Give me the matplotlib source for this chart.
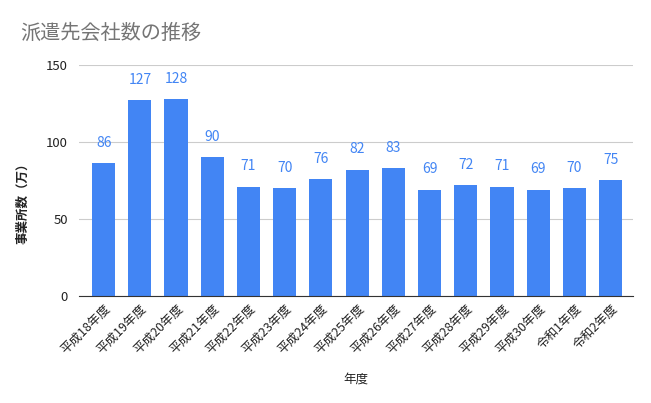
import matplotlib
matplotlib.use("Agg")
import matplotlib.pyplot as plt

plt.rcParams['font.family'] = ['Noto Sans CJK JP', 'DejaVu Sans']

years = ["平成18年度", "平成19年度", "平成20年度", "平成21年度", "平成22年度",
         "平成23年度", "平成24年度", "平成25年度", "平成26年度", "平成27年度",
         "平成28年度", "平成29年度", "平成30年度", "令和1年度", "令和2年度"]
counts = [86, 127, 128, 90, 71, 70, 76, 82, 83, 69, 72, 71, 69, 70, 75]

BLUE = "#4285F4"

fig = plt.figure(figsize=(6.51, 4.03), dpi=100)
ax = fig.add_axes([0.1214, 0.2655, 0.851, 0.574])

x = list(range(len(years)))
ax.bar(x, counts, width=0.64, color=BLUE, zorder=2)
for xi, v in zip(x, counts):
    ax.text(xi, v + 8.5, str(v), ha="center", va="bottom", color=BLUE, fontsize=10)

ax.set_ylim(0, 150)
ax.set_xlim(-0.68, 14.62)
ax.set_yticks([0, 50, 100, 150])
ax.yaxis.grid(True, color="#cccccc", lw=0.8, zorder=0)
ax.set_axisbelow(True)
for s in ("top", "right", "left"):
    ax.spines[s].set_visible(False)
ax.spines["bottom"].set_color("#333333")
ax.tick_params(axis="y", length=0, pad=8, labelsize=9.5, labelcolor="#222222")
ax.tick_params(axis="x", length=0, pad=4, labelsize=9, labelcolor="#222222")
ax.set_xticks(x)
ax.set_xticklabels(years, rotation=45, ha="right", rotation_mode="anchor")

ax.set_ylabel("事業所数（万）", fontsize=9, fontweight="bold", color="#222222")
ax.yaxis.set_label_coords(-0.09, 0.416)
ax.set_xlabel("年度", fontsize=9, color="#222222", labelpad=12)

fig.text(0.031, 0.918, "派遣先会社数の推移", fontsize=14.5, color="#757575", ha="left", va="center")

fig.savefig("out.png", dpi=100)
